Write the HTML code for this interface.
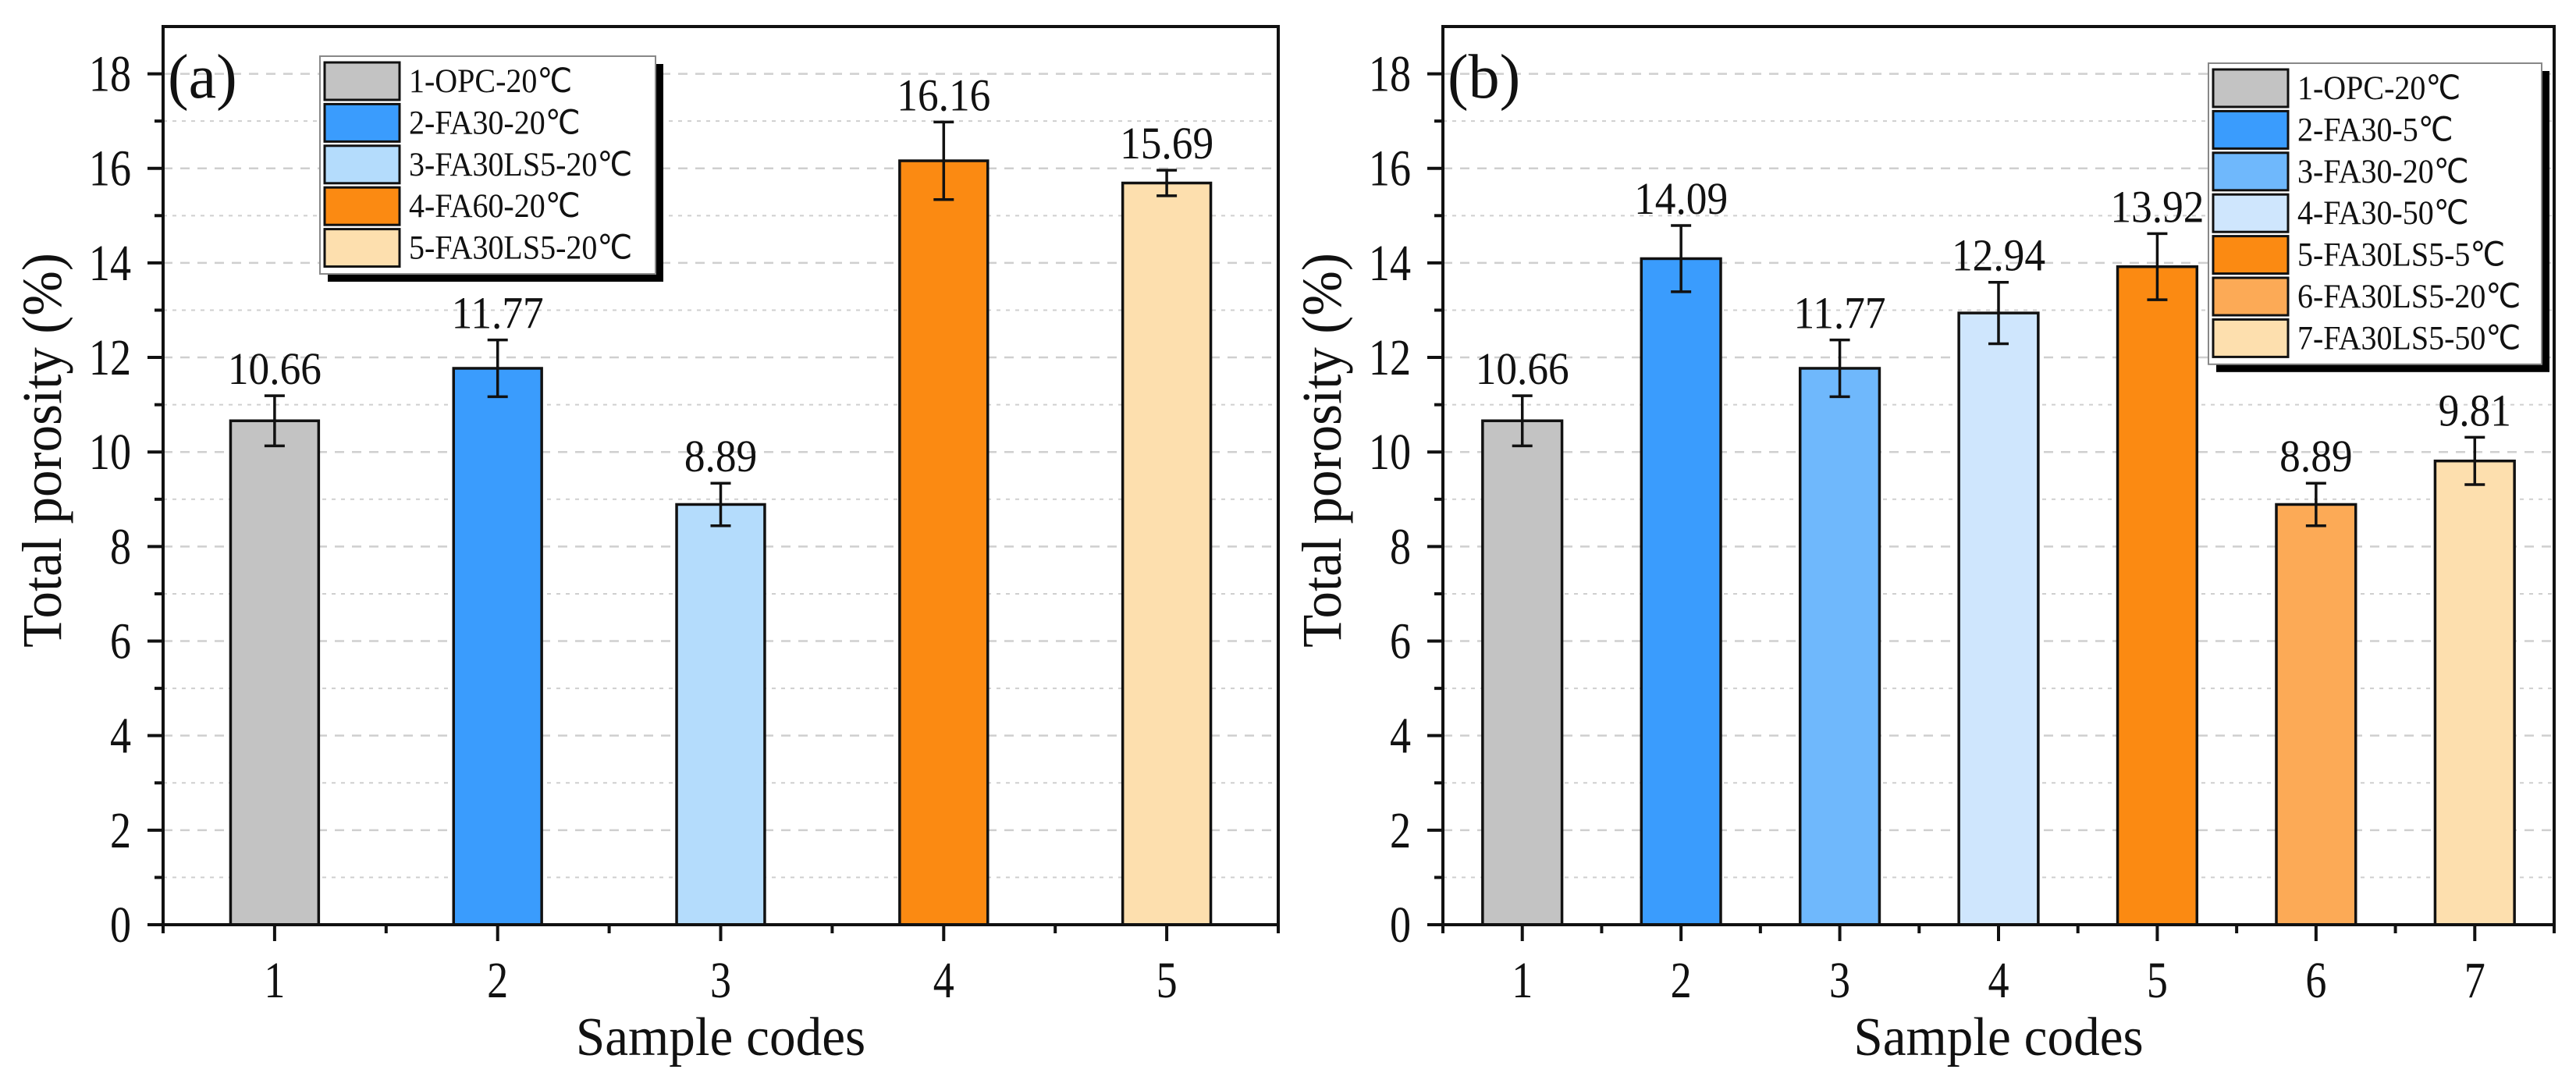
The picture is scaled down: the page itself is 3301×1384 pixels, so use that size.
<!DOCTYPE html>
<html><head><meta charset="utf-8">
<style>
html,body{margin:0;padding:0;background:#fff;}
svg{display:block;font-family:"Liberation Serif","Times New Roman",serif;}
</style></head>
<body>
<svg id="chart" width="3301" height="1384" viewBox="0 0 3301 1384" xmlns="http://www.w3.org/2000/svg"></svg>
<script>
const catsA = ["1","2","3","4","5"];
const valsA = [10.66, 11.77, 8.89, 16.16, 15.69];
const errsA = [0.53, 0.6, 0.45, 0.82, 0.27];
const namesA = ["1-OPC-20\u2103","2-FA30-20\u2103","3-FA30LS5-20\u2103","4-FA60-20\u2103","5-FA30LS5-20\u2103"];
const colorsA = ["#c3c3c3","#3a9cfd","#b4dcfc","#fb8a12","#fddfae"];

const catsB = ["1","2","3","4","5","6","7"];
const valsB = [10.66, 14.09, 11.77, 12.94, 13.92, 8.89, 9.81];
const errsB = [0.53, 0.7, 0.6, 0.65, 0.7, 0.45, 0.5];
const namesB = ["1-OPC-20\u2103","2-FA30-5\u2103","3-FA30-20\u2103","4-FA30-50\u2103","5-FA30LS5-5\u2103","6-FA30LS5-20\u2103","7-FA30LS5-50\u2103"];
const colorsB = ["#c3c3c3","#3a9cfd","#6fb8fc","#cfe6fd","#fb8a12","#fcaa56","#fddfae"];

const yTicks = [0,2,4,6,8,10,12,14,16,18];

const NS="http://www.w3.org/2000/svg";
const svg=document.getElementById('chart');
function mk(tag,attrs,parent){const e=document.createElementNS(NS,tag);for(const k in attrs)e.setAttribute(k,attrs[k]);(parent||svg).appendChild(e);return e;}
function txt(parent,x,y,size,anchor,sx,str,rot){
  const t=mk('text',{x:0,y:0,'font-size':size,'text-anchor':anchor,fill:'#111',
    transform:`translate(${x},${y})${rot?' rotate('+rot+')':''} scale(${sx},1)`},parent);
  t.textContent=str;return t;
}

function panel(opts){
  const {left,right,top,bottom,cats,vals,errs,names,colors,barFrac,label,labelX,leg,prefix}=opts;
  const g=mk('g',{});
  
  
  const yMax=19;
  const y=v=>bottom-(v/yMax)*(bottom-top);
  const step=(right-left)/cats.length;
  const x=i=>left+step*(i+0.5);
  for(let v=1;v<19;v++){
    const major=v%2===0;
    const gl=mk('line',{x1:left,x2:right,y1:y(v),y2:y(v),stroke:'#cfcfcf','stroke-width':major?2.5:2,'stroke-dasharray':major?'12,10':'5,7'},g);
    
    
  }
  cats.forEach((c,i)=>{
    const bw=step*barFrac;
    const r=mk('rect',{x:x(i)-bw/2,y:y(vals[i]),width:bw,height:bottom-y(vals[i]),fill:colors[i],stroke:'#111','stroke-width':3.5},g);
    
    
    const et=y(vals[i]+errs[i]), eb=y(vals[i]-errs[i]);
    const eg=mk('g',{stroke:'#111','stroke-width':3.5},g);
    
    
    mk('line',{x1:x(i),x2:x(i),y1:et,y2:eb},eg);
    mk('line',{x1:x(i)-13,x2:x(i)+13,y1:et,y2:et},eg);
    mk('line',{x1:x(i)-13,x2:x(i)+13,y1:eb,y2:eb},eg);
    const t=txt(g,x(i),et-15,58,'middle',0.92,vals[i].toFixed(2));
    
    
  });
  const fr=mk('rect',{x:left,y:top,width:right-left,height:bottom-top,fill:'none',stroke:'#111','stroke-width':4},g);
  
  
  for(let v=0;v<=18;v++){
    const major=v%2===0;
    mk('line',{x1:left-(major?20:11),x2:left,y1:y(v),y2:y(v),stroke:'#111','stroke-width':4},g);
  }
  yTicks.forEach(v=>{
    const t=txt(g,left-41,y(v)+22,66,'end',0.82,String(v));
    
    
  });
  for(let i=0;i<=cats.length;i++){
    mk('line',{x1:left+step*i,x2:left+step*i,y1:bottom,y2:bottom+11,stroke:'#111','stroke-width':4},g);
  }
  cats.forEach((c,i)=>{
    mk('line',{x1:x(i),x2:x(i),y1:bottom,y2:bottom+21,stroke:'#111','stroke-width':4},g);
    const t=txt(g,x(i),bottom+93,66,'middle',0.82,c);
    
    
  });
  const xt=txt(g,(left+right)/2,1352,70,'middle',0.96,'Sample codes');
  
  
  const yt=txt(g,left-131,577,72,'middle',0.96,'Total porosity (%)',-90);
  
  
  const pl=mk('text',{x:labelX,y:125,'font-size':80,fill:'#111'},g);
  pl.textContent=label;
  
  
  const lg=mk('g',{},g);
  
  
  const lh=names.length*53.4+12;
  mk('rect',{x:leg.x+10,y:leg.y+10,width:leg.w,height:lh,fill:'#000'},lg);
  mk('rect',{x:leg.x,y:leg.y,width:leg.w,height:lh,fill:'#fff',stroke:'#888','stroke-width':2},lg);
  names.forEach((n,i)=>{
    const ry=leg.y+6+i*53.4;
    const e=mk('g',{},lg);
    
    
    mk('rect',{x:leg.x+6,y:ry+2,width:96,height:48,fill:colors[i],stroke:'#111','stroke-width':3},e);
    txt(e,leg.x+114,ry+40,43,'start',0.93,n);
  });
}

panel({left:209,right:1638,top:34,bottom:1185,cats:catsA,vals:valsA,errs:errsA,names:namesA,colors:colorsA,barFrac:0.395,label:'(a)',labelX:215,leg:{x:410,y:72,w:430},prefix:'panel-a'});
panel({left:1849,right:3273,top:34,bottom:1185,cats:catsB,vals:valsB,errs:errsB,names:namesB,colors:colorsB,barFrac:0.5,label:'(b)',labelX:1855,leg:{x:2830,y:81,w:427},prefix:'panel-b'});
</script>
</body></html>
